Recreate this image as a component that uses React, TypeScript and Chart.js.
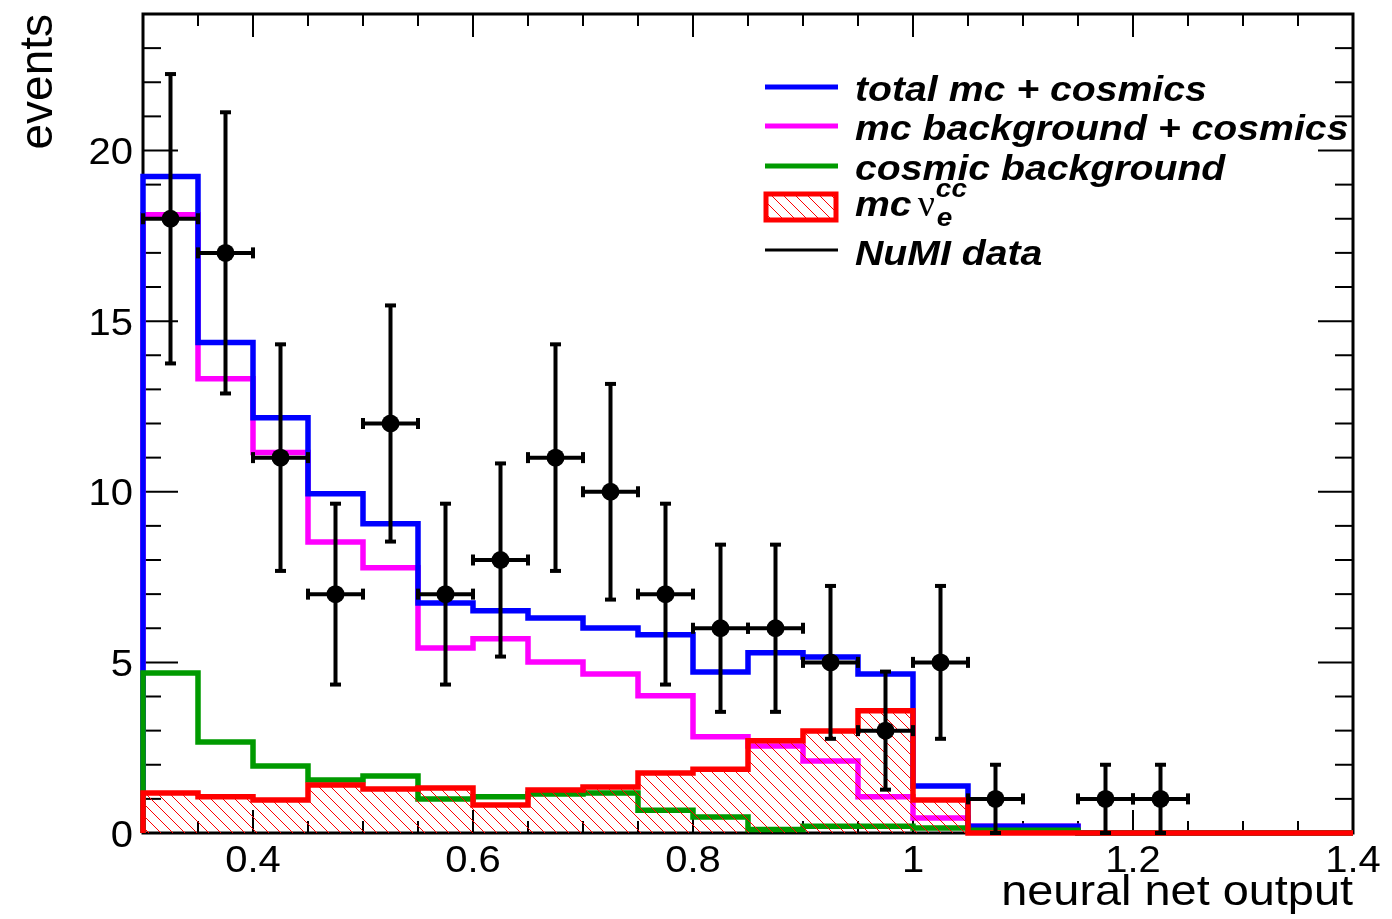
import React, { useEffect, useRef } from "react";
import { Chart, registerables } from "chart.js";

Chart.register(...registerables);

// ---- data ----
const binEdges = [0.3, 0.35, 0.4, 0.45, 0.5, 0.55, 0.6, 0.65, 0.7, 0.75, 0.8, 0.85, 0.9, 0.95, 1.0, 1.05, 1.1, 1.15, 1.2, 1.25, 1.3, 1.35, 1.4];
const totalMcCosmics = [19.24, 14.37, 12.17, 9.94, 9.06, 6.74, 6.51, 6.3, 6.01, 5.81, 4.72, 5.28, 5.16, 4.66, 1.38, 0.2, 0.2, 0, 0, 0, 0, 0];
const mcBackgroundCosmics = [18.12, 13.31, 11.15, 8.53, 7.77, 5.42, 5.69, 5.01, 4.66, 4.02, 2.82, 2.55, 2.11, 1.06, 0.44, 0.2, 0.2, 0, 0, 0, 0, 0];
const cosmicBackground = [4.69, 2.67, 1.96, 1.55, 1.67, 1.0, 1.06, 1.14, 1.17, 0.67, 0.47, 0.1, 0.2, 0.2, 0.15, 0.08, 0.08, 0, 0, 0, 0, 0];
const mcNueCC = [1.17, 1.06, 0.97, 1.41, 1.29, 1.32, 0.82, 1.26, 1.35, 1.76, 1.87, 2.7, 2.99, 3.58, 0.97, 0, 0, 0, 0, 0, 0, 0];

const dataX = [0.325, 0.375, 0.425, 0.475, 0.525, 0.575, 0.625, 0.675, 0.725, 0.775, 0.825, 0.875, 0.925, 0.975, 1.025, 1.075, 1.175, 1.225];
const dataY = [18, 17, 11, 7, 12, 7, 8, 11, 10, 7, 6, 6, 5, 3, 5, 1, 1, 1];
const dataErr = [4.24, 4.12, 3.32, 2.65, 3.46, 2.65, 2.83, 3.32, 3.16, 2.65, 2.45, 2.45, 2.24, 1.73, 2.24, 1, 1, 1];
const dataHalfWidth = 0.025;

const xTickValues = [0.4, 0.6, 0.8, 1.0, 1.2, 1.4];
const xTickLabels = ["0.4", "0.6", "0.8", "1", "1.2", "1.4"];
const yTickValues = [0, 5, 10, 15, 20];
const yTickLabels = ["0", "5", "10", "15", "20"];
const xMinorStep = 0.05;
const yMinorStep = 1;

const legendLabels = ["total mc + cosmics", "mc background + cosmics", "cosmic background", "mc", "NuMI data"];

const BLUE = "#0000ff";
const MAGENTA = "#ff00ff";
const GREEN = "#009a00";
const RED = "#ff0000";
const SANS = '"Liberation Sans", Arial, Helvetica, sans-serif';

function stepPoints(vals: number[]) {
  const pts: { x: number; y: number }[] = [{ x: binEdges[0], y: 0 }];
  vals.forEach((v, i) => pts.push({ x: binEdges[i], y: v }));
  pts.push({ x: binEdges[vals.length], y: vals[vals.length - 1] });
  pts.push({ x: binEdges[vals.length], y: 0 });
  return pts;
}

function makeHatch(): CanvasPattern | string {
  const s = 12;
  const c = document.createElement("canvas");
  c.width = s;
  c.height = s;
  const g = c.getContext("2d");
  if (!g) return "rgba(255,0,0,0.2)";
  g.strokeStyle = RED;
  g.lineWidth = 1;
  g.beginPath();
  g.moveTo(-2, -2);
  g.lineTo(s + 2, s + 2);
  g.moveTo(-2, s - 2);
  g.lineTo(2, s + 2);
  g.moveTo(s - 2, -2);
  g.lineTo(s + 2, 2);
  g.stroke();
  const p = g.createPattern(c, "repeat");
  return p || "rgba(255,0,0,0.2)";
}

function txt(
  ctx: CanvasRenderingContext2D,
  s: string,
  x: number,
  y: number,
  font: string,
  align: CanvasTextAlign,
  sx = 1,
  color = "#000"
): number {
  ctx.save();
  ctx.translate(x, y);
  ctx.scale(sx, 1);
  ctx.font = font;
  ctx.textAlign = align;
  ctx.textBaseline = "alphabetic";
  ctx.fillStyle = color;
  ctx.fillText(s, 0, 0);
  const w = ctx.measureText(s).width * sx;
  ctx.restore();
  return w;
}

function line(ctx: CanvasRenderingContext2D, x1: number, y1: number, x2: number, y2: number) {
  ctx.beginPath();
  ctx.moveTo(x1, y1);
  ctx.lineTo(x2, y2);
  ctx.stroke();
}

export default function App() {
  const ref = useRef<HTMLCanvasElement | null>(null);

  useEffect(() => {
    const canvas = ref.current;
    if (!canvas) return;
    const hatch = makeHatch();

    const framePlugin = {
      id: "rootFrame",
      beforeDatasetsDraw(chart: any) {
        const ctx: CanvasRenderingContext2D = chart.ctx;
        const xs = chart.scales.x;
        const ys = chart.scales.y;
        const { left, right, top, bottom } = chart.chartArea;
        ctx.save();
        ctx.strokeStyle = "#000";
        ctx.lineWidth = 3;
        ctx.strokeRect(left, top, right - left, bottom - top);
        ctx.lineWidth = 2;
        // x ticks
        for (let v = xs.min; v <= xs.max + 1e-9; v += xMinorStep) {
          const px = xs.getPixelForValue(v);
          const major = xTickValues.some((t) => Math.abs(t - v) < 1e-6);
          const len = major ? 23 : 12;
          line(ctx, px, bottom, px, bottom - len);
          line(ctx, px, top, px, top + len);
        }
        // y ticks
        for (let v = ys.min; v <= ys.max + 1e-9; v += yMinorStep) {
          const py = ys.getPixelForValue(v);
          const major = yTickValues.some((t) => Math.abs(t - v) < 1e-6);
          const len = major ? 35 : 18;
          line(ctx, left, py, left + len, py);
          line(ctx, right, py, right - len, py);
        }
        // tick labels
        xs.ticks.forEach((t: any, i: number) => {
          const px = xs.getPixelForValue(t.value);
          txt(ctx, xTickLabels[i], px, 872, `37px ${SANS}`, "center", 1.08);
        });
        ys.ticks.forEach((t: any, i: number) => {
          const py = ys.getPixelForValue(t.value);
          txt(ctx, yTickLabels[i], left - 10, py + 13.5, `37px ${SANS}`, "right", 1.08);
        });
        // axis titles
        txt(ctx, "neural net output", right, 905, `43px ${SANS}`, "right", 1.09);
        ctx.save();
        ctx.translate(52, 14);
        ctx.rotate(-Math.PI / 2);
        ctx.font = `46px ${SANS}`;
        ctx.textAlign = "right";
        ctx.textBaseline = "alphabetic";
        ctx.fillStyle = "#000";
        ctx.fillText("events", 0, 0);
        ctx.restore();
        ctx.restore();
      },
      beforeDatasetDraw(chart: any, args: any) {
        if (args.index !== 0) return;
        const ctx: CanvasRenderingContext2D = chart.ctx;
        const xs = chart.scales.x;
        const ys = chart.scales.y;
        ctx.save();
        ctx.strokeStyle = "#000";
        for (let i = 0; i < dataX.length; i++) {
          const px = xs.getPixelForValue(dataX[i]);
          const py = ys.getPixelForValue(dataY[i]);
          const t = ys.getPixelForValue(dataY[i] + dataErr[i]);
          const b = ys.getPixelForValue(Math.max(0, dataY[i] - dataErr[i]));
          const l = xs.getPixelForValue(dataX[i] - dataHalfWidth);
          const r = xs.getPixelForValue(dataX[i] + dataHalfWidth);
          ctx.lineWidth = 4;
          line(ctx, px, t, px, b);
          line(ctx, l, py, r, py);
          ctx.lineWidth = 4;
          line(ctx, px - 5.5, t, px + 5.5, t);
          line(ctx, px - 5.5, b, px + 5.5, b);
          line(ctx, l, py - 5.5, l, py + 5.5);
          line(ctx, r, py - 5.5, r, py + 5.5);
        }
        ctx.restore();
      },
      afterDraw(chart: any) {
        const ctx: CanvasRenderingContext2D = chart.ctx;
        ctx.save();
        const lx1 = 765;
        const lx2 = 838;
        const tx = 855;
        const lf = `italic bold 35px ${SANS}`;
        const sx = 1.12;
        ctx.lineCap = "butt";
        // row 1
        ctx.strokeStyle = BLUE;
        ctx.lineWidth = 5;
        line(ctx, lx1, 87, lx2, 87);
        txt(ctx, legendLabels[0], tx, 101, lf, "left", sx);
        // row 2
        ctx.strokeStyle = MAGENTA;
        line(ctx, lx1, 126, lx2, 126);
        txt(ctx, legendLabels[1], tx, 140, lf, "left", sx);
        // row 3
        ctx.strokeStyle = GREEN;
        line(ctx, lx1, 166, lx2, 166);
        txt(ctx, legendLabels[2], tx, 180, lf, "left", sx);
        // row 4: hatched box
        ctx.fillStyle = hatch as any;
        ctx.fillRect(766, 194, 70, 26);
        ctx.strokeStyle = RED;
        ctx.lineWidth = 5;
        ctx.strokeRect(766, 194, 70, 26);
        const wmc = txt(ctx, legendLabels[3], tx, 216, lf, "left", sx);
        const nx = tx + wmc + 6;
        const wnu = txt(ctx, "\u03BD", nx, 216, `38px "Liberation Serif", serif`, "left", 1);
        txt(ctx, "cc", nx + wnu + 1, 197, `italic bold 25px ${SANS}`, "left", 1.12);
        txt(ctx, "e", nx + wnu + 2, 226, `italic bold 25px ${SANS}`, "left", 1.12);
        // row 5
        ctx.strokeStyle = "#000";
        ctx.lineWidth = 3;
        line(ctx, lx1, 250, lx2, 250);
        txt(ctx, legendLabels[4], tx, 265, lf, "left", sx);
        ctx.restore();
      },
    };

    const histCommon = {
      stepped: "before" as const,
      pointRadius: 0,
      pointHoverRadius: 0,
      borderWidth: 5.5,
      borderJoinStyle: "miter" as const,
      borderCapStyle: "butt" as const,
      clip: 8,
    };

    const chart = new Chart(canvas, {
      type: "line",
      data: {
        datasets: [
          {
            label: "NuMI data",
            type: "scatter",
            data: dataX.map((x, i) => ({ x, y: dataY[i] })),
            pointRadius: 9,
            pointHoverRadius: 9,
            pointBackgroundColor: "#000",
            pointBorderWidth: 0,
            showLine: false,
            order: 0,
            clip: 12,
          } as any,
          {
            label: "mc nue cc",
            data: stepPoints(mcNueCC),
            borderColor: RED,
            backgroundColor: hatch as any,
            fill: "origin",
            order: 1,
            ...histCommon,
          },
          {
            label: "cosmic background",
            data: stepPoints(cosmicBackground),
            borderColor: GREEN,
            fill: false,
            order: 2,
            ...histCommon,
          },
          {
            label: "total mc + cosmics",
            data: stepPoints(totalMcCosmics),
            borderColor: BLUE,
            fill: false,
            order: 3,
            ...histCommon,
          },
          {
            label: "mc background + cosmics",
            data: stepPoints(mcBackgroundCosmics),
            borderColor: MAGENTA,
            fill: false,
            order: 4,
            ...histCommon,
          },
        ],
      },
      options: {
        animation: false,
        responsive: false,
        events: [],
        layout: { padding: { left: 0, right: 39, top: 14, bottom: 0 } },
        plugins: { legend: { display: false }, tooltip: { enabled: false } },
        scales: {
          x: {
            type: "linear",
            min: 0.3,
            max: 1.4,
            grid: { display: false },
            border: { display: false },
            ticks: { display: false },
            afterBuildTicks: (s: any) => {
              s.ticks = xTickValues.map((v) => ({ value: v }));
            },
            afterFit: (s: any) => {
              s.height = 86;
            },
          },
          y: {
            type: "linear",
            min: 0,
            max: 24,
            grid: { display: false },
            border: { display: false },
            ticks: { display: false },
            afterBuildTicks: (s: any) => {
              s.ticks = yTickValues.map((v) => ({ value: v }));
            },
            afterFit: (s: any) => {
              s.width = 143;
            },
          },
        },
      },
      plugins: [framePlugin],
    } as any);

    return () => chart.destroy();
  }, []);

  return (
    <div style={{ position: "fixed", left: 0, top: 0, width: 1392, height: 919, background: "#fff" }}>
      <canvas ref={ref} width={1392} height={919} style={{ display: "block", width: 1392, height: 919 }} />
    </div>
  );
}
